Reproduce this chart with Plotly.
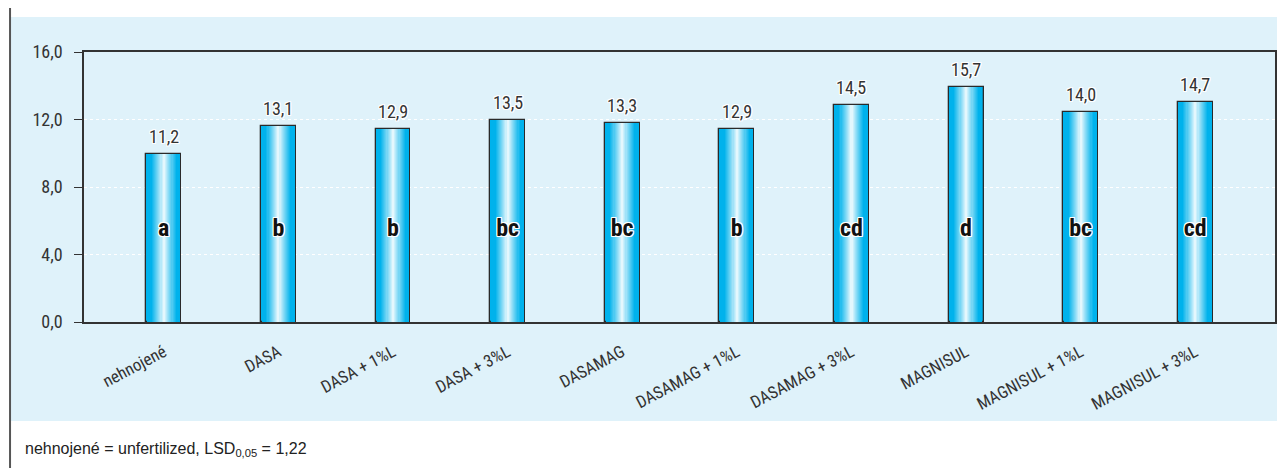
import plotly.graph_objects as go

# ---- data ----
categories = ["nehnojené", "DASA", "DASA + 1%L", "DASA + 3%L", "DASAMAG",
              "DASAMAG + 1%L", "DASAMAG + 3%L", "MAGNISUL", "MAGNISUL + 1%L", "MAGNISUL + 3%L"]
values = [11.2, 13.1, 12.9, 13.5, 13.3, 12.9, 14.5, 15.7, 14.0, 14.7]
groups = ["a", "b", "b", "bc", "bc", "b", "cd", "d", "bc", "cd"]
# axis as printed in the original (labels do not follow the bar scale 1:1)
tick_vals = [0, 4.5, 9, 13.5, 18]
tick_text = ["0,0", "4,0", "8,0", "12,0", "16,0"]
footnote = "nehnojené = unfertilized, LSD<sub>0,05</sub> = 1,22"

NARROW = "Liberation Sans Narrow, Arial Narrow, Roboto Condensed, sans-serif"
HALO = "-1px -1px 0 #fff, 1px -1px 0 #fff, -1px 1px 0 #fff, 1px 1px 0 #fff, 0 1px 0 #fff, 0 -1px 0 #fff, 1px 0 0 #fff, -1px 0 0 #fff"

fig = go.Figure()

# gradient bars built from layered overlay bars
BAR_W = 0.305
N = 16
cyan = (0, 178, 236)
white = (255, 255, 255)
for k in range(N):
    t = 1 - k / N  # relative half-width
    f = min(1.0, t / 0.75) ** 0.9
    col = tuple(int(round(white[i] + (cyan[i] - white[i]) * f)) for i in range(3))
    fig.add_trace(go.Bar(
        x=categories, y=values, width=BAR_W * t,
        marker=dict(color="rgb(%d,%d,%d)" % col,
                    line=dict(color="#2a2a2a", width=1.3 if k == 0 else 0)),
        hoverinfo="skip", showlegend=False,
    ))

# value labels
for c, v in zip(categories, values):
    fig.add_annotation(x=c, y=v, text=f"{v:.1f}".replace(".", ","), showarrow=False,
                       yanchor="bottom", yshift=5,
                       font=dict(family=NARROW, size=18, color="#333", shadow=HALO))

# significance letters
fig.add_trace(go.Scatter(
    x=categories, y=[6.15] * len(categories), mode="text", text=groups,
    textfont=dict(family=NARROW, size=24, color="#111", weight="bold", shadow=HALO),
    hoverinfo="skip", showlegend=False,
))

# background panel and left frame line
fig.add_shape(type="rect", xref="paper", yref="paper", x0=-0.0613, x1=1.02, y0=-0.3667, y1=1.1296,
              fillcolor="#dff2fa", line_width=0, layer="below")
fig.add_shape(type="line", xref="paper", yref="paper", x0=-0.0621, x1=-0.0621, y0=-0.6, y1=1.25,
              line=dict(color="#555", width=2), layer="below")

fig.add_annotation(xref="paper", yref="paper", x=-0.0512, y=-0.474, xanchor="left", yanchor="middle",
                   text=footnote, showarrow=False,
                   font=dict(family="Liberation Sans, Arial, sans-serif", size=16, color="#222"))

# note: page body adds an 8px offset, margins compensate for it
fig.update_layout(
    width=1285, height=468,
    margin=dict(l=76, r=18, t=44, b=154, autoexpand=False),
    paper_bgcolor="white", plot_bgcolor="#b8e4f8",
    barmode="overlay", bargap=0,
    xaxis=dict(range=[-0.696, 9.696], showgrid=False, showline=True, linecolor="#333", linewidth=1.5,
               mirror=True, ticks="", tickangle=-28, ticklabelstandoff=12, automargin=False,
               tickfont=dict(family=NARROW, size=17, color="#333")),
    yaxis=dict(range=[0, 18], tickvals=tick_vals, ticktext=tick_text, showgrid=True,
               gridcolor="white", griddash="dot", gridwidth=1.2,
               showline=True, linecolor="#333", linewidth=1.5, mirror=True,
               ticks="outside", ticklen=8, tickcolor="#333", ticklabelstandoff=8,
               zeroline=False, automargin=False,
               tickfont=dict(family=NARROW, size=18, color="#333")),
)

fig.write_html("out.html")
